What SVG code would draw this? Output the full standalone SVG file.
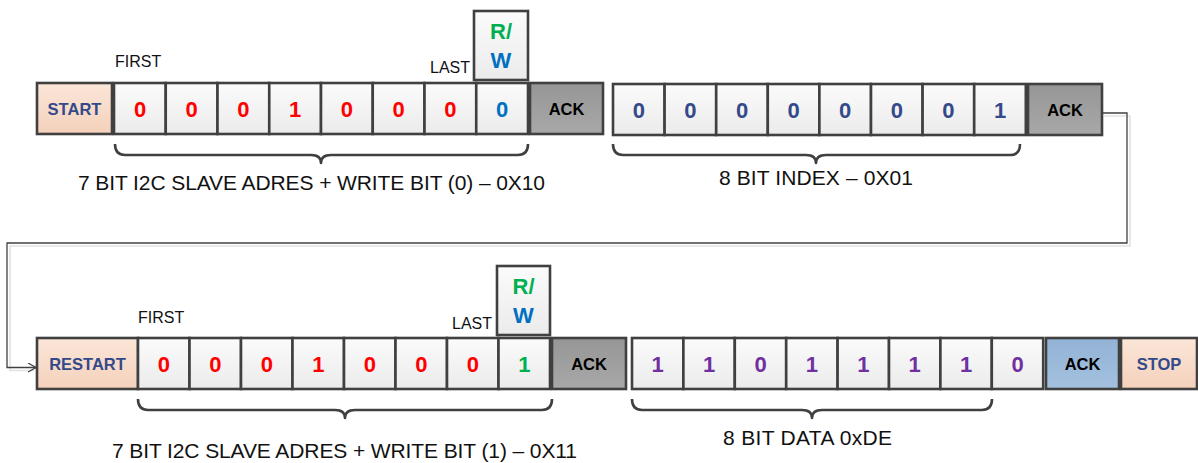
<svg xmlns="http://www.w3.org/2000/svg" width="1198" height="463" viewBox="0 0 1198 463">
  <defs>
    <linearGradient id="gCell" x1="0" y1="0" x2="0" y2="1">
      <stop offset="0" stop-color="#fbfbfb"/>
      <stop offset="1" stop-color="#ebebeb"/>
    </linearGradient>
    <linearGradient id="gPeach" x1="0" y1="0" x2="0" y2="1">
      <stop offset="0" stop-color="#fbe6d8"/>
      <stop offset="1" stop-color="#f4d1bb"/>
    </linearGradient>
    <linearGradient id="gGray" x1="0" y1="0" x2="0" y2="1">
      <stop offset="0" stop-color="#969696"/>
      <stop offset="1" stop-color="#a8a8a8"/>
    </linearGradient>
    <linearGradient id="gBlue" x1="0" y1="0" x2="0" y2="1">
      <stop offset="0" stop-color="#93b3d6"/>
      <stop offset="1" stop-color="#a3c0de"/>
    </linearGradient>
    <marker id="open" viewBox="0 0 10 10" refX="9" refY="5" markerWidth="10" markerHeight="10" markerUnits="userSpaceOnUse" orient="auto">
      <path d="M1,0.5 L9,5 L1,9.5" fill="none" stroke="#404040" stroke-width="1.2"/>
    </marker>
  </defs>
  <style>
    .box { stroke: #404040; stroke-width: 2.6; }
    .cell { fill: url(#gCell); }
    .peach { fill: url(#gPeach); }
    .gray { fill: url(#gGray); }
    .blue { fill: url(#gBlue); }
    text { font-family: "Liberation Sans", Arial, sans-serif; }
    .b { font-weight: bold; text-anchor: middle; }
    .bit { font-size: 22px; }
    .tag { font-size: 16.5px; }
    .navy { fill: #34498a; }
    .red { fill: #ff0000; }
    .grn { fill: #00b050; }
    .blu { fill: #0070c0; }
    .idx { fill: #34498a; }
    .pur { fill: #7030a0; }
    .blk { fill: #000; }
    .note { font-size: 16px; fill: #111; }
    .lbl { font-size: 21px; fill: #111; text-anchor: middle; }
    .brace { fill: none; stroke: #404040; stroke-width: 2.6; stroke-linejoin: round; }
    .wire { fill: none; stroke: #404040; stroke-width: 1.3; }
    .wireShade { fill: none; stroke: #e2e2e2; stroke-width: 1.6; }
  </style>

  <!-- wrap-around connector from the first frame to the RESTART frame -->
  <g id="connectors">
    <path class="wireShade" d="M1104,116 H1130 V246 H10 V370.5 H34"/>
    <path class="wire" d="M1102,113 H1127 V243 H7 V367.5 H36" marker-end="url(#open)"/>
  </g>

  <!-- ===== first frame: address + write, index ===== -->
  <g id="start">
    <rect class="box peach" x="37" y="83" width="75" height="51"/>
    <text class="b tag navy" x="74.5" y="114.5">START</text>
  </g>

  <g id="addr-w">
    <rect class="box cell" x="114" y="83" width="51.75" height="51"/>
    <rect class="box cell" x="165.75" y="83" width="51.75" height="51"/>
    <rect class="box cell" x="217.5" y="83" width="51.75" height="51"/>
    <rect class="box cell" x="269.25" y="83" width="51.75" height="51"/>
    <rect class="box cell" x="321" y="83" width="51.75" height="51"/>
    <rect class="box cell" x="372.75" y="83" width="51.75" height="51"/>
    <rect class="box cell" x="424.5" y="83" width="51.75" height="51"/>
    <rect class="box cell" x="476.25" y="83" width="51.75" height="51"/>
    <text class="b bit red" x="140" y="116.5">0</text>
    <text class="b bit red" x="191.6" y="116.5">0</text>
    <text class="b bit red" x="243.4" y="116.5">0</text>
    <text class="b bit red" x="295.1" y="116.5">1</text>
    <text class="b bit red" x="346.9" y="116.5">0</text>
    <text class="b bit red" x="398.6" y="116.5">0</text>
    <text class="b bit red" x="450.4" y="116.5">0</text>
    <text class="b bit blu" x="502.1" y="116.5">0</text>
  </g>

  <g id="rw-top">
    <rect class="box cell" x="474" y="11" width="54" height="69"/>
    <text class="b bit grn" x="501" y="38.5">R/</text>
    <text class="b bit blu" x="501" y="67.5">W</text>
  </g>

  <g id="ack1">
    <rect class="box gray" x="530" y="83" width="73" height="51"/>
    <text class="b tag blk" x="566.5" y="114.5">ACK</text>
  </g>

  <g id="index">
    <rect class="box cell" x="613" y="84" width="51.6" height="51"/>
    <rect class="box cell" x="664.6" y="84" width="51.6" height="51"/>
    <rect class="box cell" x="716.2" y="84" width="51.6" height="51"/>
    <rect class="box cell" x="767.8" y="84" width="51.6" height="51"/>
    <rect class="box cell" x="819.4" y="84" width="51.6" height="51"/>
    <rect class="box cell" x="871" y="84" width="51.6" height="51"/>
    <rect class="box cell" x="922.6" y="84" width="51.6" height="51"/>
    <rect class="box cell" x="974.2" y="84" width="51.6" height="51"/>
    <text class="b bit idx" x="638.8" y="117.5">0</text>
    <text class="b bit idx" x="690.4" y="117.5">0</text>
    <text class="b bit idx" x="742" y="117.5">0</text>
    <text class="b bit idx" x="793.6" y="117.5">0</text>
    <text class="b bit idx" x="845.2" y="117.5">0</text>
    <text class="b bit idx" x="896.8" y="117.5">0</text>
    <text class="b bit idx" x="948.4" y="117.5">0</text>
    <text class="b bit idx" x="1000" y="117.5">1</text>
  </g>

  <g id="ack2">
    <rect class="box gray" x="1028" y="84" width="74" height="51"/>
    <text class="b tag blk" x="1065" y="115.5">ACK</text>
  </g>

  <g id="notes-top">
    <text class="note" x="115" y="67">FIRST</text>
    <text class="note" x="430" y="73">LAST</text>
    <path class="brace" d="M115,144 Q115,155 125,155 H311 Q321,155 321,163 Q321,155 331,155 H518 Q528,155 528,144"/>
    <text class="lbl" x="311.5" y="190" textLength="467" lengthAdjust="spacing">7 BIT I2C SLAVE ADRES + WRITE BIT (0) – 0X10</text>
    <path class="brace" d="M613,144 Q613,155 623,155 H806 Q816,155 816,163 Q816,155 826,155 H1010 Q1020,155 1020,144"/>
    <text class="lbl" x="816" y="185" textLength="194" lengthAdjust="spacing">8 BIT INDEX – 0X01</text>
  </g>

  <!-- ===== second frame: address + read, data ===== -->
  <g id="restart">
    <rect class="box peach" x="37" y="338" width="101" height="51"/>
    <text class="b tag navy" x="87.5" y="370">RESTART</text>
  </g>

  <g id="addr-r">
    <rect class="box cell" x="138" y="338" width="51.5" height="51"/>
    <rect class="box cell" x="189.5" y="338" width="51.5" height="51"/>
    <rect class="box cell" x="241" y="338" width="51.5" height="51"/>
    <rect class="box cell" x="292.5" y="338" width="51.5" height="51"/>
    <rect class="box cell" x="344" y="338" width="51.5" height="51"/>
    <rect class="box cell" x="395.5" y="338" width="51.5" height="51"/>
    <rect class="box cell" x="447" y="338" width="51.5" height="51"/>
    <rect class="box cell" x="498.5" y="338" width="51.5" height="51"/>
    <text class="b bit red" x="163.8" y="371.5">0</text>
    <text class="b bit red" x="215.3" y="371.5">0</text>
    <text class="b bit red" x="266.8" y="371.5">0</text>
    <text class="b bit red" x="318.3" y="371.5">1</text>
    <text class="b bit red" x="369.8" y="371.5">0</text>
    <text class="b bit red" x="421.3" y="371.5">0</text>
    <text class="b bit red" x="472.8" y="371.5">0</text>
    <text class="b bit grn" x="524.3" y="371.5">1</text>
  </g>

  <g id="rw-bottom">
    <rect class="box cell" x="497" y="266" width="53" height="69"/>
    <text class="b bit grn" x="523.5" y="293.5">R/</text>
    <text class="b bit blu" x="523.5" y="322.5">W</text>
  </g>

  <g id="ack3">
    <rect class="box gray" x="552" y="338" width="74" height="51"/>
    <text class="b tag blk" x="589" y="370">ACK</text>
  </g>

  <g id="data">
    <rect class="box cell" x="632" y="338" width="51.4" height="51"/>
    <rect class="box cell" x="683.4" y="338" width="51.4" height="51"/>
    <rect class="box cell" x="734.8" y="338" width="51.4" height="51"/>
    <rect class="box cell" x="786.2" y="338" width="51.4" height="51"/>
    <rect class="box cell" x="837.6" y="338" width="51.4" height="51"/>
    <rect class="box cell" x="889" y="338" width="51.4" height="51"/>
    <rect class="box cell" x="940.4" y="338" width="51.4" height="51"/>
    <rect class="box cell" x="991.8" y="338" width="51.4" height="51"/>
    <text class="b bit pur" x="657.7" y="371.5">1</text>
    <text class="b bit pur" x="709.1" y="371.5">1</text>
    <text class="b bit pur" x="760.5" y="371.5">0</text>
    <text class="b bit pur" x="811.9" y="371.5">1</text>
    <text class="b bit pur" x="863.3" y="371.5">1</text>
    <text class="b bit pur" x="914.7" y="371.5">1</text>
    <text class="b bit pur" x="966.1" y="371.5">1</text>
    <text class="b bit pur" x="1017.5" y="371.5">0</text>
  </g>

  <g id="ack4">
    <rect class="box blue" x="1046" y="338" width="73" height="51"/>
    <text class="b tag blk" x="1082.5" y="370">ACK</text>
  </g>

  <g id="stop">
    <rect class="box peach" x="1121" y="338" width="76" height="51"/>
    <text class="b tag navy" x="1159" y="370">STOP</text>
  </g>

  <g id="notes-bottom">
    <text class="note" x="138" y="323">FIRST</text>
    <text class="note" x="452" y="329">LAST</text>
    <path class="brace" d="M138,399 Q138,410 148,410 H335 Q345,410 345,418 Q345,410 355,410 H542 Q552,410 552,399"/>
    <text class="lbl" x="344.5" y="458" textLength="465" lengthAdjust="spacing">7 BIT I2C SLAVE ADRES + WRITE BIT (1) – 0X11</text>
    <path class="brace" d="M632,399 Q632,410 642,410 H802 Q812,410 812,418 Q812,410 822,410 H982 Q992,410 992,399"/>
    <text class="lbl" x="807.5" y="445" textLength="169" lengthAdjust="spacing">8 BIT DATA 0xDE</text>
  </g>
</svg>
